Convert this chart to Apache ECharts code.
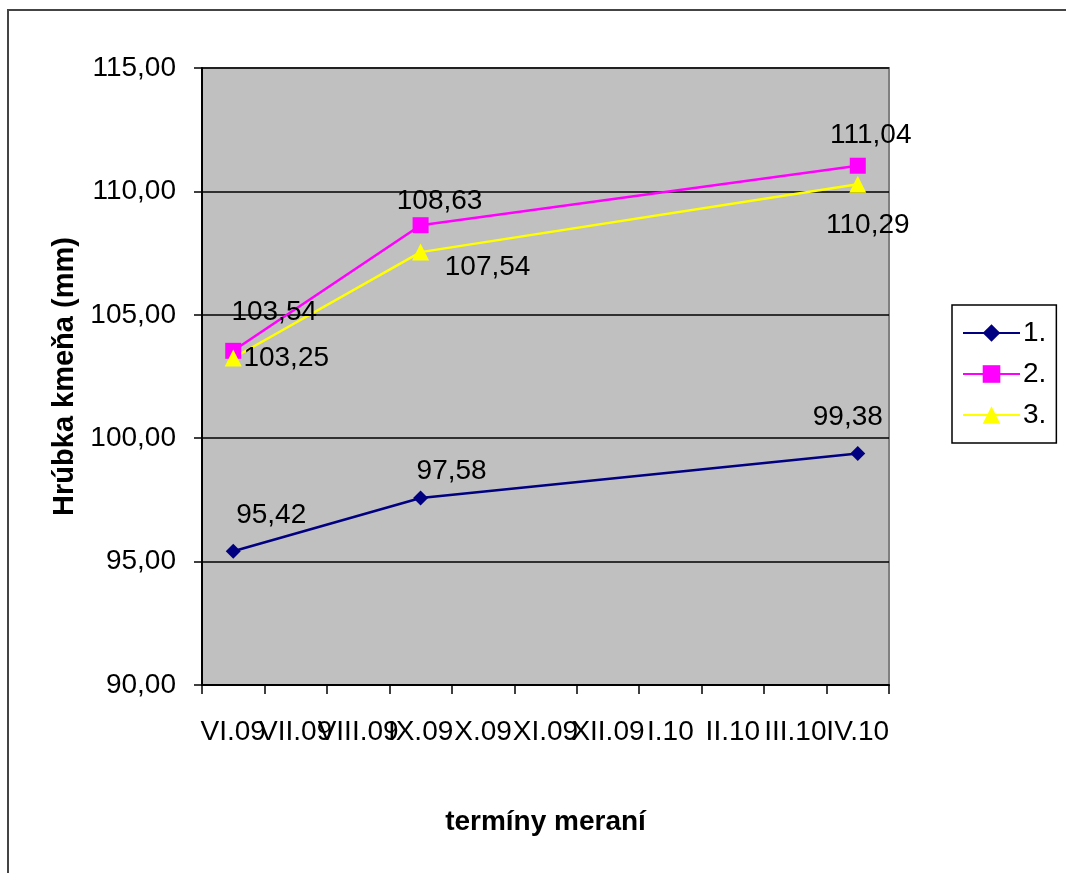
<!DOCTYPE html>
<html>
<head>
<meta charset="utf-8">
<script src="https://cdn.jsdelivr.net/npm/echarts@6/dist/echarts.min.js"></script>
<style>
  html, body { margin: 0; padding: 0; background: #fff; }
  #chart { width: 1066px; height: 873px; }
</style>
</head>
<body>
<div id="chart"></div>
<script>
var months = ['VI.09', 'VII.09', 'VIII.09', 'IX.09', 'X.09', 'XI.09', 'XII.09', 'I.10', 'II.10', 'III.10', 'IV.10'];
var s1 = [95.42, null, null, 97.58, null, null, null, null, null, null, 99.38];
var s2 = [103.54, null, null, 108.63, null, null, null, null, null, null, 111.04];
var s3 = [103.25, null, null, 107.54, null, null, null, null, null, null, 110.29];
var seriesNames = ['1.', '2.', '3.'];
// label offsets from the point, one per measured point
var off1 = [[38, -36], [31, -27], [-10, -36]];
var off2 = [[41, -39], [19, -24], [13, -30]];
var off3 = [[53, 0], [67, 15], [10, 41]];

var font = 'Liberation Sans, Arial, sans-serif';

function fmt(v) {
    return v.toFixed(2).replace('.', ',');
}

function build_data(values, offsets) {
    var k = 0;
    return values.map(function (v) {
        if (v === null) return null;
        var o = offsets[k++];
        return { value: v, label: { offset: o } };
    });
}

function make_series(name, values, offsets, color, symbol, size) {
    return {
        name: name,
        type: 'line',
        data: build_data(values, offsets),
        connectNulls: true,
        symbol: symbol,
        symbolSize: size,
        color: color,
        lineStyle: { color: color, width: 2.5 },
        itemStyle: { color: color },
        label: {
            show: true,
            position: 'inside',
            color: '#000',
            fontFamily: font,
            fontSize: 28,
            formatter: function (p) { return fmt(p.value); }
        }
    };
}

var chart = echarts.init(document.getElementById('chart'));
var option = {
    backgroundColor: '#fff',
    animation: false,
    graphic: [{
        type: 'rect',
        shape: { x: 8, y: 10, width: 1070, height: 880 },
        style: { fill: 'none', stroke: '#444', lineWidth: 2 },
        silent: true
    }],
    grid: {
        left: 202,
        right: 177,
        top: 68,
        bottom: 188,
        show: true,
        backgroundColor: '#C0C0C0',
        borderColor: '#808080',
        borderWidth: 2
    },
    legend: {
        orient: 'vertical',
        left: 952,
        top: 305,
        data: seriesNames,
        itemWidth: 57,
        itemHeight: 22,
        itemGap: 13,
        padding: [14, 10, 14, 10],
        borderColor: '#000',
        borderWidth: 1.5,
        textStyle: { fontFamily: font, fontSize: 28, color: '#000', padding: [0, 0, 0, -2] }
    },
    xAxis: {
        type: 'category',
        data: months,
        boundaryGap: true,
        name: 'termíny meraní',
        nameLocation: 'middle',
        nameGap: 123,
        nameTextStyle: { fontFamily: font, fontSize: 28, fontWeight: 'bold', color: '#000' },
        axisLine: { lineStyle: { color: '#000', width: 2 } },
        axisTick: { show: true, length: 9, lineStyle: { color: '#000', width: 1.5 } },
        axisLabel: {
            interval: 0,
            hideOverlap: false,
            margin: 33,
            fontFamily: font,
            fontSize: 28,
            color: '#000'
        },
        splitLine: { show: false }
    },
    yAxis: {
        type: 'value',
        min: 90,
        max: 115,
        interval: 5,
        name: 'Hrúbka kmeňa (mm)',
        nameLocation: 'middle',
        nameGap: 120,
        nameRotate: 90,
        nameTextStyle: { fontFamily: font, fontSize: 29, fontWeight: 'bold', color: '#000' },
        axisLine: { show: true, lineStyle: { color: '#000', width: 2 } },
        axisTick: { show: true, length: 8, lineStyle: { color: '#000', width: 1.5 } },
        axisLabel: {
            margin: 26,
            fontFamily: font,
            fontSize: 28,
            color: '#000',
            formatter: function (v) { return fmt(v); }
        },
        splitLine: { show: true, lineStyle: { color: '#000', width: 1.5 } }
    },
    series: [
        make_series('1.', s1, off1, '#000080', 'diamond', 15),
        make_series('2.', s2, off2, '#FF00FF', 'rect', 16),
        make_series('3.', s3, off3, '#FFFF00', 'triangle', 17)
    ]
};
chart.setOption(option);
</script>
</body>
</html>
